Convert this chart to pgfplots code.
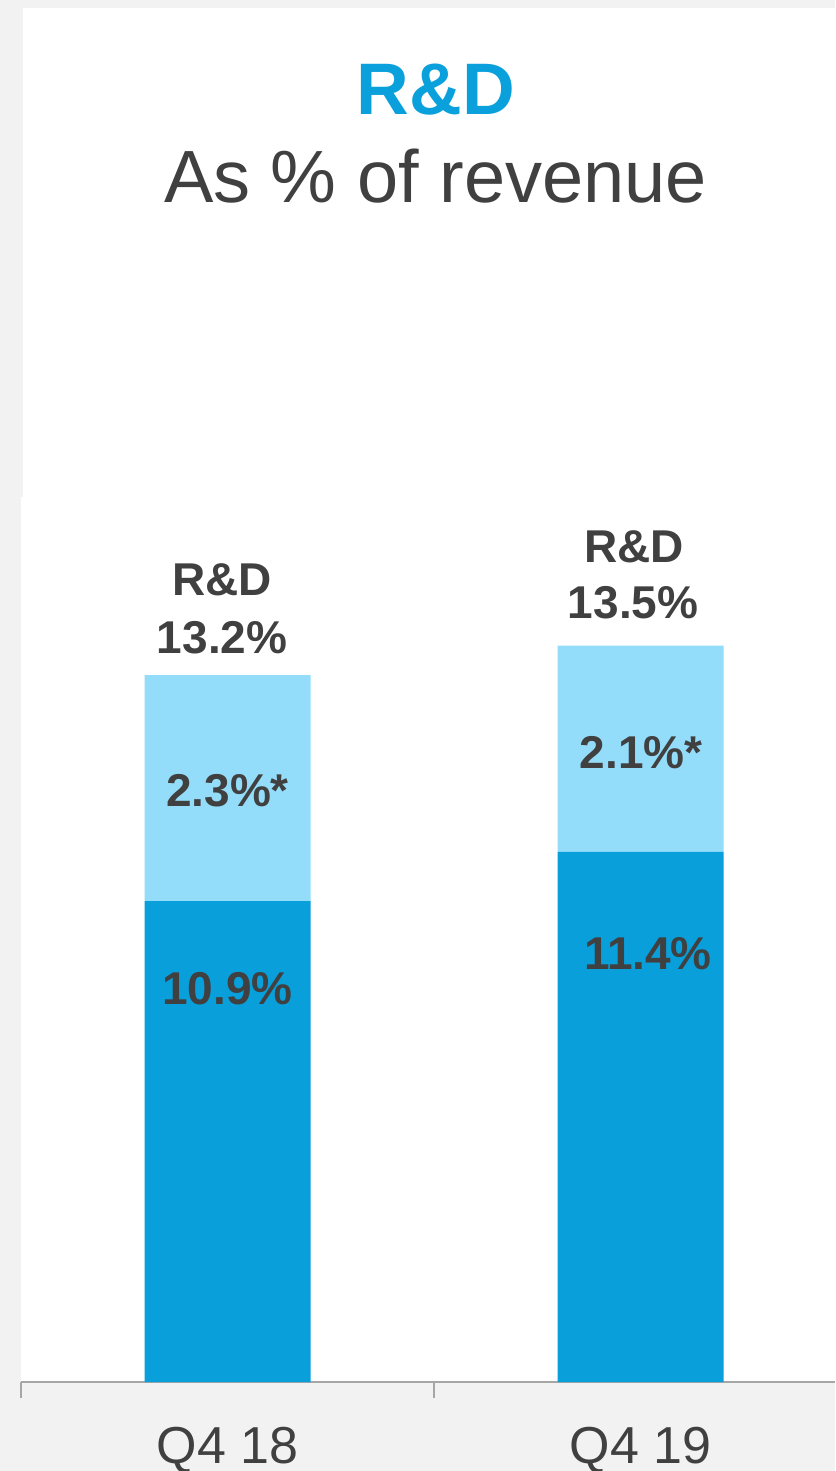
\documentclass[border=0pt]{standalone}
\usepackage{pgfplots}
\pgfplotsset{compat=1.18}
\usepackage{fontspec}
\setmainfont{Liberation Sans}
\definecolor{darkblue}{HTML}{089FDB}
\definecolor{lightblue}{HTML}{94DDFA}
\definecolor{textgray}{HTML}{404040}
\definecolor{titleblue}{HTML}{0AA0DC}
\definecolor{axisgray}{HTML}{A6A6A6}
\definecolor{bggray}{HTML}{F2F2F2}
\tikzset{barlbl/.style={anchor=base, text=textgray, font=\bfseries\fontsize{23}{27}\selectfont, inner sep=0pt}}
\begin{document}
\begin{tikzpicture}[x=0.5pt,y=0.5pt]
\useasboundingbox (0,0) rectangle (835,1471);
\fill[bggray] (0,0) rectangle (835,1471);
\fill[white] (23,974) rectangle (835,1463);
\fill[white] (21,89) rectangle (835,974);
\node[anchor=base, text=titleblue, font=\bfseries\fontsize{36.5}{40}\selectfont, inner sep=0pt] at (436,1356) {R\&D};
\node[anchor=base, text=textgray, font=\fontsize{37}{42}\selectfont, inner sep=0pt] at (435.5,1268) {As \% of revenue};
\begin{axis}[
  at={(10.5pt,44.5pt)}, anchor=south west,
  scale only axis, width=407pt, height=442.5pt,
  xmin=-0.5, xmax=1.4709, ymin=0, ymax=16.524,
  ybar stacked, bar width=83pt,
  axis x line=bottom, axis y line=none,
  x axis line style={-, draw=axisgray, line width=1pt},
  xtick={0,1}, xticklabels={Q4 18, Q4 19},
  major tick length=0pt, tick align=outside,
  extra x ticks={-0.5,0.5}, extra x tick labels={},
  extra x tick style={major tick length=8pt, tick style={draw=axisgray, line width=0.8pt}},
  xticklabel style={font=\fontsize{26}{30}\selectfont, text=textgray, anchor=base, yshift=-40.5pt, inner sep=0pt},
  clip=false,
]
\addplot[fill=darkblue, draw=none] coordinates {(0,8.98) (1,9.90)};
\addplot[fill=lightblue, draw=none] coordinates {(0,4.22) (1,3.85)};
\coordinate (t1a) at (axis cs:-0.013,14.69);
\coordinate (t1b) at (axis cs:-0.013,13.61);
\coordinate (s1) at (axis cs:0,10.75);
\coordinate (d1) at (axis cs:0,7.04);
\coordinate (t2a) at (axis cs:0.984,15.31);
\coordinate (t2b) at (axis cs:0.982,14.26);
\coordinate (s2) at (axis cs:1.002,11.46);
\coordinate (d2) at (axis cs:1.018,7.71);
\end{axis}
\node[barlbl] at (t1a) {R\&D};
\node[barlbl] at (t1b) {13.2\%};
\node[barlbl] at (s1) {2.3\%*};
\node[barlbl] at (d1) {10.9\%};
\node[barlbl] at (t2a) {R\&D};
\node[barlbl] at (t2b) {13.5\%};
\node[barlbl] at (s2) {2.1\%*};
\node[barlbl] at (d2) {11.4\%};
\end{tikzpicture}
\end{document}
